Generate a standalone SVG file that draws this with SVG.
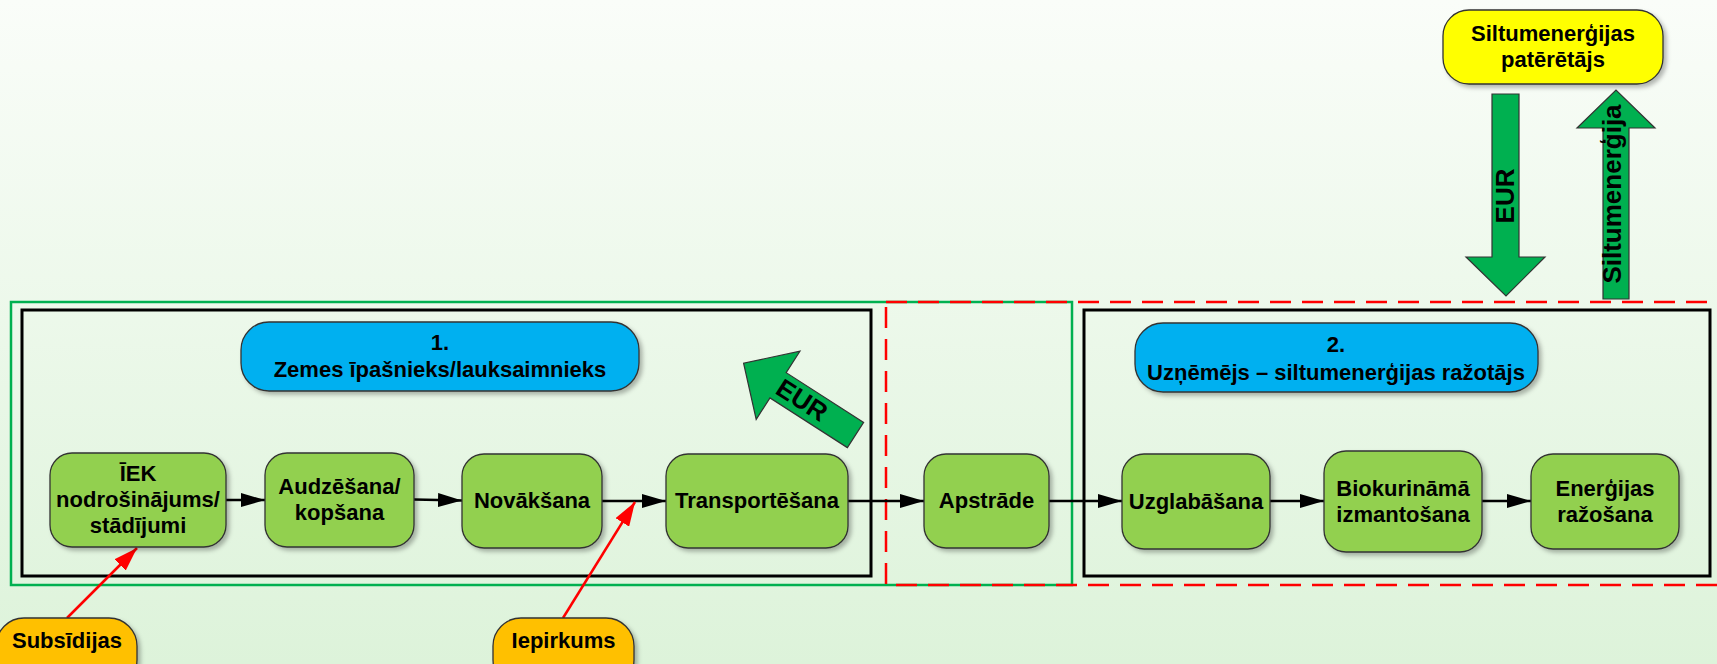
<svg xmlns="http://www.w3.org/2000/svg" width="1717" height="664" viewBox="0 0 1717 664">
<defs>
<linearGradient id="bg" x1="0" y1="0" x2="0" y2="1">
<stop offset="0" stop-color="#fafdf9"/>
<stop offset="1" stop-color="#ddf3da"/>
</linearGradient>
<filter id="sh" x="-10%" y="-10%" width="125%" height="130%">
<feDropShadow dx="3" dy="3" stdDeviation="2" flood-color="#000" flood-opacity="0.28"/>
</filter>
<marker id="ah" markerUnits="userSpaceOnUse" markerWidth="24" markerHeight="14" refX="24" refY="7" orient="auto">
<path d="M0,0 L24,7 L0,14 z" fill="#000"/>
</marker>
<marker id="rh" markerUnits="userSpaceOnUse" markerWidth="24" markerHeight="16" refX="24" refY="8" orient="auto">
<path d="M0,0 L24,8 L0,16 z" fill="#ff0000"/>
</marker>
<style>
text{font-family:"Liberation Sans",Arial,sans-serif;font-weight:bold;font-size:22px;fill:#000;text-anchor:middle}
.big{font-size:26px}
.node{fill:#92d050;stroke:#333;stroke-width:1.3;filter:url(#sh)}
.blue{fill:#00b0f0;stroke:#333;stroke-width:1.3;filter:url(#sh)}
.yellow{fill:#ffff00;stroke:#333;stroke-width:1.3;filter:url(#sh)}
.orange{fill:#ffc000;stroke:#333;stroke-width:1.3;filter:url(#sh)}
.garrow{fill:#00b050;stroke:#333;stroke-width:1.2}
.conn{stroke:#000;stroke-width:2.5;fill:none;marker-end:url(#ah)}
.red{stroke:#ff0000;stroke-width:2.5;fill:none;marker-end:url(#rh)}
</style>
</defs>
<rect x="0" y="0" width="1717" height="664" fill="url(#bg)"/>

<g id="frames" fill="none">
<rect id="frame-green" x="11" y="302" width="1061" height="283" stroke="#00b050" stroke-width="2.5"/>
<rect id="frame-left" x="22" y="310" width="849" height="266" stroke="#000" stroke-width="3"/>
<rect id="frame-right" x="1084" y="310" width="626" height="266" stroke="#000" stroke-width="3"/>
<rect id="frame-red" x="886" y="302" width="850" height="283" stroke="#ff0000" stroke-width="2.5" stroke-dasharray="21 11"/>
</g>

<g id="role1">
<rect class="blue" x="241" y="322" width="398" height="69" rx="28"/>
<text x="440" y="350">1.</text>
<text x="440" y="377">Zemes īpašnieks/lauksaimnieks</text>
</g>
<g id="role2">
<rect class="blue" x="1135" y="323" width="403" height="69" rx="28"/>
<text x="1336" y="352">2.</text>
<text x="1336" y="380">Uzņēmējs – siltumenerģijas ražotājs</text>
</g>
<g id="consumer">
<rect class="yellow" x="1443" y="10" width="220" height="74" rx="26"/>
<text x="1553" y="41">Siltumenerģijas</text>
<text x="1553" y="67">patērētājs</text>
</g>

<g id="connectors">
<line class="conn" x1="226" y1="500" x2="265" y2="500"/>
<line class="conn" x1="414" y1="499.5" x2="462" y2="500.5"/>
<line class="conn" x1="602" y1="501" x2="666" y2="501"/>
<line class="conn" x1="848" y1="501" x2="924" y2="501"/>
<line class="conn" x1="1049" y1="501" x2="1122" y2="501"/>
<line class="conn" x1="1270" y1="501" x2="1324" y2="501"/>
<line class="conn" x1="1482" y1="501" x2="1531" y2="501"/>
<line class="red" x1="67" y1="618" x2="137" y2="548"/>
<line class="red" x1="563" y1="618" x2="635" y2="502"/>
</g>

<g id="n-iek">
<rect class="node" x="50" y="453" width="176" height="94" rx="22"/>
<text x="138" y="481">ĪEK</text>
<text x="138" y="507">nodrošinājums/</text>
<text x="138" y="533">stādījumi</text>
</g>
<g id="n-audz">
<rect class="node" x="265" y="453" width="149" height="94" rx="22"/>
<text x="339.5" y="494">Audzēšana/</text>
<text x="339.5" y="520">kopšana</text>
</g>
<g id="n-novak">
<rect class="node" x="462" y="454" width="140" height="94" rx="22"/>
<text x="532" y="508">Novākšana</text>
</g>
<g id="n-transp">
<rect class="node" x="666" y="454" width="182" height="94" rx="22"/>
<text x="757" y="508">Transportēšana</text>
</g>
<g id="n-apstr">
<rect class="node" x="924" y="454" width="125" height="94" rx="22"/>
<text x="986.5" y="508">Apstrāde</text>
</g>
<g id="n-uzgl">
<rect class="node" x="1122" y="454" width="148" height="95" rx="22"/>
<text x="1196" y="509">Uzglabāšana</text>
</g>
<g id="n-bio">
<rect class="node" x="1324" y="451" width="158" height="101" rx="22"/>
<text x="1403" y="496">Biokurināmā</text>
<text x="1403" y="522">izmantošana</text>
</g>
<g id="n-energ">
<rect class="node" x="1531" y="454" width="148" height="95" rx="22"/>
<text x="1605" y="496">Enerģijas</text>
<text x="1605" y="522">ražošana</text>
</g>

<g id="subsidijas">
<rect class="orange" x="-4" y="618" width="141" height="70" rx="28"/>
<text x="67" y="648">Subsīdijas</text>
</g>
<g id="iepirkums">
<rect class="orange" x="493" y="618" width="141" height="70" rx="28"/>
<text x="563.5" y="648">Iepirkums</text>
</g>

<g id="eur-diag">
<polygon class="garrow" transform="translate(855.5,435) rotate(212.7)" points="0,-15 92,-15 92,-40.5 133,0 92,40.5 92,15 0,15"/>
<text class="big" transform="translate(802,400) rotate(32.7)" y="9">EUR</text>
</g>
<g id="eur-down">
<polygon class="garrow" points="1492,94 1519,94 1519,257 1545,257 1506,296 1466,257 1492,257"/>
<text class="big" transform="translate(1514,196) rotate(-90)">EUR</text>
</g>
<g id="heat-up">
<polygon class="garrow" points="1603,299 1629,299 1629,128 1655,128 1616,90 1577,128 1603,128"/>
<text class="big" transform="translate(1621,194) rotate(-90)">Siltumenerģija</text>
</g>
</svg>
